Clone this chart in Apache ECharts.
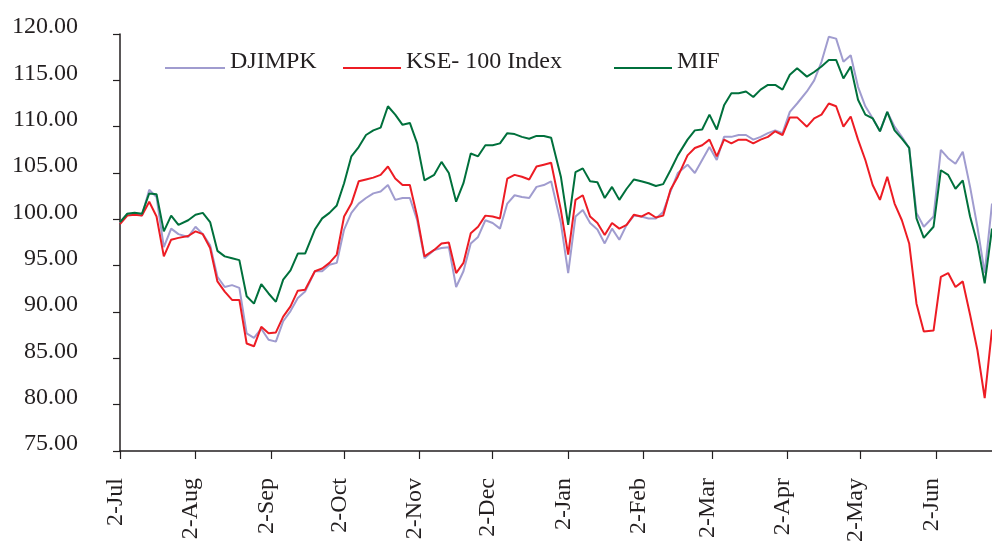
<!DOCTYPE html>
<html>
<head>
<meta charset="utf-8">
<title>DJIMPK / KSE-100 / MIF</title>
<script src="https://cdn.jsdelivr.net/npm/echarts@6/dist/echarts.min.js"></script>
<style>
  html, body { margin: 0; padding: 0; background: #fff; }
  #chart { width: 992px; height: 545px; }
</style>
</head>
<body>
<div id="chart"></div>
<script>
var sampleDates = [
  '2-Jul','5-Jul','8-Jul','11-Jul','14-Jul','17-Jul','20-Jul','23-Jul','26-Jul','30-Jul',
  '2-Aug','5-Aug','8-Aug','11-Aug','14-Aug','17-Aug','20-Aug','23-Aug','26-Aug','29-Aug',
  '1-Sep','4-Sep','7-Sep','10-Sep','13-Sep','16-Sep','20-Sep','23-Sep','26-Sep','29-Sep',
  '2-Oct','5-Oct','8-Oct','11-Oct','14-Oct','17-Oct','20-Oct','23-Oct','26-Oct','29-Oct',
  '1-Nov','4-Nov','8-Nov','11-Nov','14-Nov','17-Nov','20-Nov','23-Nov','26-Nov','29-Nov',
  '2-Dec','5-Dec','8-Dec','11-Dec','14-Dec','17-Dec','20-Dec','23-Dec','26-Dec','30-Dec',
  '2-Jan','5-Jan','8-Jan','11-Jan','14-Jan','17-Jan','20-Jan','23-Jan','26-Jan','29-Jan',
  '1-Feb','4-Feb','7-Feb','10-Feb','13-Feb','16-Feb','20-Feb','23-Feb','26-Feb',
  '1-Mar','4-Mar','7-Mar','10-Mar','13-Mar','16-Mar','19-Mar','22-Mar','25-Mar','28-Mar','31-Mar',
  '3-Apr','6-Apr','10-Apr','13-Apr','16-Apr','19-Apr','22-Apr','25-Apr','28-Apr',
  '1-May','4-May','7-May','10-May','13-May','16-May','19-May','22-May','25-May','28-May',
  '1-Jun','4-Jun','7-Jun','10-Jun','13-Jun','16-Jun','19-Jun','22-Jun','25-Jun'
];

var djimpk = [
  99.6,100.6,100.6,100.4,103.2,102.4,97.0,99.0,98.4,98.1,
  99.2,98.4,97.2,93.8,92.7,92.9,92.6,87.7,87.2,88.2,
  87.0,86.8,89.0,90.1,91.5,92.2,94.4,94.4,95.1,95.3,
  98.9,100.7,101.7,102.3,102.8,103.0,103.7,102.1,102.3,102.3,
  99.9,95.8,96.7,96.9,97.0,92.7,94.4,97.4,98.1,99.9,
  99.6,99.0,101.7,102.6,102.4,102.3,103.5,103.7,104.1,99.6,
  94.2,100.3,101.0,99.6,98.9,97.4,99.0,97.8,99.4,100.4,
  100.3,100.1,100.1,100.8,103.0,105.0,105.9,105.0,106.4,
  107.8,106.4,108.9,108.9,109.1,109.1,108.6,108.9,109.3,109.6,109.3,
  111.6,112.5,113.8,115.0,117.0,119.7,119.5,117.0,117.7,
  114.3,112.2,110.9,109.5,111.6,110.0,108.9,107.7,100.7,99.2,
  100.3,107.5,106.6,106.0,107.3,103.5,99.2,94.2,101.7
];

var kse = [
  99.5,100.4,100.5,100.4,101.9,100.3,96.0,97.8,98.0,98.2,
  98.7,98.4,96.9,93.3,92.2,91.3,91.3,86.6,86.3,88.4,
  87.7,87.8,89.5,90.6,92.3,92.4,94.4,94.7,95.3,96.2,
  100.3,101.7,104.1,104.3,104.5,104.8,105.7,104.4,103.7,103.7,
  100.3,96.0,96.7,97.4,97.5,94.2,95.3,98.5,99.2,100.4,
  100.3,100.1,104.4,104.8,104.6,104.3,105.7,105.9,106.1,101.0,
  96.2,102.1,102.6,100.3,99.6,98.3,99.6,99.0,99.4,100.5,
  100.3,100.7,100.2,100.4,103.2,104.6,106.9,107.7,108.0,
  108.6,106.8,108.6,108.2,108.6,108.6,108.2,108.6,108.9,109.5,109.1,
  111.0,111.0,110.0,110.9,111.3,112.5,112.2,110.0,111.1,
  108.6,106.4,103.7,102.1,104.6,101.7,99.9,97.4,90.9,87.9,
  88.0,93.8,94.2,92.7,93.3,89.7,85.9,80.7,88.1
];

var mif = [
  99.7,100.6,100.7,100.6,102.8,102.7,98.7,100.4,99.4,99.9,
  100.5,100.7,99.7,96.6,96.0,95.8,95.6,91.7,90.9,93.0,
  92.0,91.1,93.5,94.5,96.3,96.3,98.9,100.1,100.7,101.5,
  103.9,106.8,107.8,109.1,109.6,109.9,112.2,111.3,110.2,110.4,
  108.2,104.2,104.8,106.2,105.0,101.9,103.9,107.1,106.8,108.0,
  108.0,108.2,109.3,109.2,108.9,108.7,109.0,109.0,108.8,104.6,
  99.4,105.1,105.5,104.1,104.0,102.3,103.5,102.1,103.3,104.3,
  104.1,103.9,103.6,103.8,105.3,106.9,108.6,109.6,109.7,
  111.3,109.7,112.3,113.6,113.6,113.8,113.2,114.0,114.5,114.5,114.0,
  115.6,116.3,115.4,115.9,116.5,117.2,117.2,115.2,116.5,
  112.9,111.3,110.9,109.5,111.6,109.6,108.7,107.7,100.1,98.0,
  99.2,105.3,104.8,103.3,104.2,100.3,97.4,93.1,99.0
];

var tickLabels = ['2-Jul','2-Aug','2-Sep','2-Oct','2-Nov','2-Dec','2-Jan','2-Feb','2-Mar','2-Apr','2-May','2-Jun'];
var monthNames = ['Jan','Feb','Mar','Apr','May','Jun','Jul','Aug','Sep','Oct','Nov','Dec'];

// every calendar day from 2-Jul to 25-Jun, so the axis is spaced by date
var days = [];
var day = new Date(2008, 6, 2);
for (var k = 0; k < 359; k++) {
  days.push(day.getDate() + '-' + monthNames[day.getMonth()]);
  day.setDate(day.getDate() + 1);
}

function pairs(values) {
  return sampleDates.map(function (dt, i) { return [dt, values[i]]; });
}
function isTick(index, value) {
  return tickLabels.indexOf(value) >= 0;
}

var ink = '#231f20';
var font = 'Liberation Serif';
var colors = { djimpk: '#a09ccf', kse: '#ed1c24', mif: '#00703c' };

var myChart = echarts.init(document.getElementById('chart'), null, { renderer: 'canvas' });

// legend text sits a little above its line sample, as in the original
function legendFor(name, left, width) {
  return {
    data: [name], left: left, top: 50, padding: 0,
    icon: 'rect', itemWidth: width, itemHeight: 2,
    formatter: function (n) { return n + '\n '; },
    textStyle: { color: ink, fontFamily: font, fontSize: 24, lineHeight: 12 }
  };
}

var option = {
  animation: false,
  backgroundColor: '#fff',
  grid: { left: 120, right: 0, top: 34, bottom: 94, containLabel: false },
  legend: [
    legendFor('DJIMPK', 165, 60),
    legendFor('KSE- 100 Index', 343, 58),
    legendFor('MIF', 614, 58)
  ],
  xAxis: {
    type: 'category',
    data: days,
    boundaryGap: false,
    axisLine: { lineStyle: { color: ink, width: 1.5 } },
    axisTick: { interval: isTick, length: 8, lineStyle: { color: ink, width: 1.2 } },
    axisLabel: {
      interval: isTick,
      rotate: 90,
      margin: 27,
      verticalAlign: 'bottom',
      lineHeight: 9,
      color: ink,
      fontFamily: font,
      fontSize: 24
    },
    splitLine: { show: false }
  },
  yAxis: {
    type: 'value',
    min: 75,
    max: 120,
    interval: 5,
    axisLine: { show: true, lineStyle: { color: ink, width: 1.5 } },
    axisTick: { show: true, length: 7, lineStyle: { color: ink, width: 1.2 } },
    axisLabel: {
      margin: 42,
      verticalAlign: 'bottom',
      lineHeight: 14,
      color: ink,
      fontFamily: font,
      fontSize: 24,
      formatter: function (v) { return v.toFixed(2); }
    },
    splitLine: { show: false }
  },
  series: [
    { name: 'DJIMPK', type: 'line', symbol: 'none', data: pairs(djimpk),
      itemStyle: { color: colors.djimpk }, lineStyle: { color: colors.djimpk, width: 2 } },
    { name: 'KSE- 100 Index', type: 'line', symbol: 'none', data: pairs(kse),
      itemStyle: { color: colors.kse }, lineStyle: { color: colors.kse, width: 2 } },
    { name: 'MIF', type: 'line', symbol: 'none', data: pairs(mif),
      itemStyle: { color: colors.mif }, lineStyle: { color: colors.mif, width: 2 } }
  ]
};

myChart.setOption(option);
</script>
</body>
</html>
